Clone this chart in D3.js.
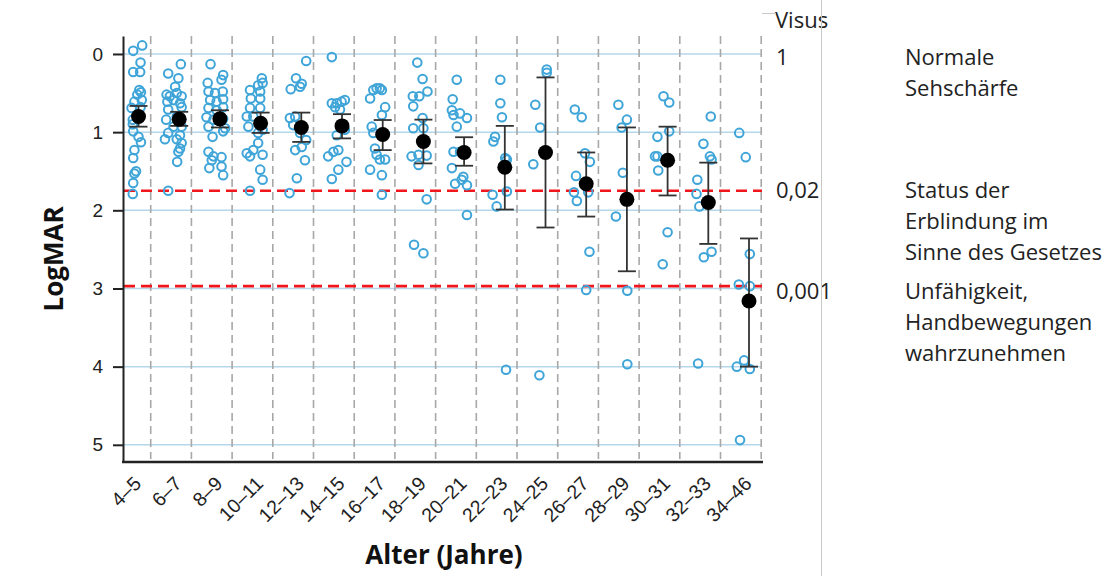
<!DOCTYPE html>
<html>
<head>
<meta charset="utf-8">
<script src="https://cdn.jsdelivr.net/npm/d3@7"></script>
<style>
  body { margin: 0; background: #fff; }
  svg { display: block; }
</style>
</head>
<body>
<div id="chart"></div>
<script>
// LogMAR by age group: jittered individual eyes, mean with error bars

const categories = ["4–5","6–7","8–9","10–11","12–13","14–15","16–17","18–19",
  "20–21","22–23","24–25","26–27","28–29","30–31","32–33","34–46"];

const means     = [0.80,0.835,0.83,0.887,0.94,0.92,1.03,1.12,1.26,1.45,1.26,1.66,1.86,1.36,1.90,3.16];
const errTop    = [0.665,0.74,0.72,0.75,0.75,0.77,0.845,0.84,1.065,0.92,0.30,1.26,0.94,0.93,1.39,2.36];
const errBottom = [0.93,0.92,0.94,1.01,1.125,1.08,1.23,1.40,1.43,1.99,2.22,2.08,2.78,1.81,2.43,4.0];

// [jitter (fraction of band), LogMAR]
const pointsByGroup = [
  [[-0.13,-0.04],[0.09,-0.11],[0.05,0.11],[-0.13,0.23],[0.04,0.23],[0.02,0.46],[0.06,0.49],[-0.03,0.52],
   [-0.10,0.61],[0.08,0.59],[-0.17,0.69],[0.05,0.68],[-0.14,0.84],[-0.14,0.90],[-0.13,0.99],[0.0,1.06],
   [0.06,1.13],[-0.10,1.23],[-0.13,1.33],[-0.06,1.50],[-0.10,1.53],[-0.13,1.65],[-0.14,1.79]],
  [[0.04,0.13],[-0.27,0.25],[-0.02,0.31],[-0.10,0.42],[-0.31,0.52],[-0.23,0.54],[-0.06,0.50],[0.06,0.54],
   [-0.29,0.61],[-0.14,0.59],[0.02,0.63],[-0.27,0.71],[0.06,0.68],[-0.32,0.84],[-0.06,0.80],[-0.14,0.93],
   [0.06,0.93],[-0.27,1.01],[0.02,1.04],[-0.35,1.09],[-0.06,1.09],[0.06,1.14],[0.02,1.21],[-0.02,1.25],
   [-0.05,1.38],[-0.27,1.75]],
  [[-0.23,0.13],[-0.30,0.37],[0.04,0.33],[0.08,0.27],[-0.28,0.48],[-0.12,0.50],[0.07,0.48],[-0.24,0.59],
   [-0.08,0.61],[0.08,0.58],[-0.28,0.69],[-0.08,0.72],[0.08,0.68],[-0.33,0.81],[-0.16,0.84],[0.08,0.83],
   [-0.28,0.93],[0.13,0.95],[-0.18,1.06],[0.08,0.99],[-0.28,1.25],[-0.16,1.31],[0.04,1.32],[-0.20,1.36],
   [-0.26,1.46],[0.04,1.44],[0.08,1.55]],
  [[0.03,0.31],[-0.06,0.40],[0.05,0.37],[-0.26,0.46],[-0.01,0.48],[-0.24,0.57],[-0.01,0.57],[-0.26,0.69],
   [-0.01,0.69],[-0.34,0.80],[-0.18,0.80],[-0.30,0.93],[-0.06,1.01],[0.05,0.97],[-0.06,1.14],[-0.18,1.23],
   [-0.34,1.27],[-0.26,1.31],[0.05,1.29],[-0.01,1.48],[0.05,1.61],[-0.26,1.75]],
  [[0.12,0.09],[-0.13,0.31],[0.01,0.38],[-0.26,0.45],[-0.03,0.42],[-0.28,0.82],[-0.15,0.80],[-0.20,0.91],
   [-0.03,1.01],[0.12,1.10],[-0.15,1.23],[0.01,1.19],[0.09,1.36],[-0.11,1.59],[-0.29,1.78]],
  [[-0.25,0.04],[-0.25,0.63],[-0.13,0.63],[-0.01,0.61],[0.07,0.59],[-0.17,0.68],[-0.05,0.71],[-0.13,1.04],
   [0.07,0.97],[-0.34,1.31],[-0.21,1.25],[-0.09,1.23],[0.11,1.38],[-0.09,1.48],[-0.25,1.60]],
  [[-0.31,0.57],[-0.23,0.46],[-0.15,0.44],[-0.07,0.44],[-0.02,0.46],[0.06,0.68],[-0.02,0.78],[-0.27,0.93],
   [-0.23,1.01],[-0.19,1.21],[-0.15,1.29],[-0.07,1.35],[0.06,1.35],[-0.31,1.48],[-0.02,1.55],[-0.02,1.80]],
  [[-0.15,0.11],[-0.02,0.32],[-0.26,0.54],[-0.10,0.54],[0.10,0.48],[-0.25,0.67],[-0.02,0.82],[-0.25,0.95],
   [0.0,0.95],[-0.29,1.31],[-0.12,1.29],[0.08,1.30],[-0.12,1.42],[0.08,1.86],[-0.23,2.44],[0.0,2.55]],
  [[-0.18,0.33],[-0.28,0.58],[-0.30,0.72],[-0.26,0.78],[-0.10,0.76],[0.07,0.82],[-0.18,0.93],[-0.26,1.25],
   [-0.10,1.25],[-0.30,1.46],[-0.02,1.57],[0.07,1.68],[-0.22,1.66],[-0.06,1.61],[0.07,2.06]],
  [[-0.11,0.33],[-0.11,0.63],[-0.07,0.81],[-0.24,1.06],[-0.28,1.12],[0.01,1.33],[0.05,1.35],[0.05,1.76],
   [-0.30,1.80],[-0.20,1.95],[0.03,4.04]],
  [[0.03,0.20],[0.03,0.24],[-0.25,0.65],[-0.13,0.94],[-0.30,1.41],[-0.15,4.11]],
  [[-0.28,0.71],[-0.11,0.81],[-0.03,1.27],[0.09,1.38],[-0.25,1.56],[-0.30,1.77],[-0.23,1.88],[0.05,1.77],
   [0.08,2.53],[0.0,3.02]],
  [[-0.21,0.65],[0.0,0.84],[-0.13,0.94],[-0.10,1.52],[-0.27,2.08],[0.01,3.03],[0.01,3.97]],
  [[-0.10,0.54],[0.04,0.62],[-0.25,1.06],[0.04,0.99],[-0.31,1.31],[-0.25,1.31],[-0.23,1.49],[0.0,2.28],
   [-0.12,2.69]],
  [[0.06,0.80],[-0.12,1.15],[0.04,1.31],[0.08,1.35],[-0.27,1.61],[-0.29,1.79],[-0.22,1.95],[-0.11,2.60],
   [0.08,2.53],[-0.25,3.96]],
  [[-0.24,1.01],[-0.08,1.32],[0.02,2.56],[-0.25,2.95],[0.02,2.97],[-0.30,4.00],[-0.12,3.92],[0.02,4.03],
   [-0.22,4.94]]
];

const yTicks = [0, 1, 2, 3, 4, 5];
const thresholds = [1.75, 2.97];
const visusLabels = ["1", "0,02", "0,001"];
const visusAt = [0, 1.7, 3];
const visusNotes = [["Normale", "Sehschärfe"],
                    ["Status der", "Erblindung im", "Sinne des Gesetzes"],
                    ["Unfähigkeit,", "Handbewegungen", "wahrzunehmen"]];

const width = 1107, height = 576;
const plot = { left: 123, right: 762, top: 36, bottom: 462 };

const svg = d3.select("#chart").append("svg")
  .attr("width", width)
  .attr("height", height);

const x = d3.scaleBand()
  .domain(categories)
  .range([118.15, 769.35])
  .padding(0);
const bw = x.bandwidth();
const cx = c => x(c) + bw / 2;

const y = d3.scaleLinear()
  .domain([-0.23, 5.22])
  .range([plot.top, plot.bottom]);

// horizontal grid
svg.append("g").selectAll("line")
  .data(yTicks)
  .join("line")
  .attr("x1", plot.left).attr("x2", plot.right)
  .attr("y1", d => y(d)).attr("y2", d => y(d))
  .attr("stroke", "#b5d7ec")
  .attr("stroke-width", 1.5);

// dashed separators between age groups
svg.append("g").selectAll("line")
  .data(categories)
  .join("line")
  .attr("x1", d => x(d) + bw * 0.8).attr("x2", d => x(d) + bw * 0.8)
  .attr("y1", plot.top).attr("y2", plot.bottom - 3)
  .attr("stroke", "#a8a8a8")
  .attr("stroke-width", 1.6)
  .attr("stroke-dasharray", "8,5");

// red threshold lines
svg.append("g").selectAll("line")
  .data(thresholds)
  .join("line")
  .attr("x1", plot.left + 1).attr("x2", plot.right)
  .attr("y1", d => y(d)).attr("y2", d => y(d))
  .attr("stroke", "#f0161c")
  .attr("stroke-width", 2.6)
  .attr("stroke-dasharray", "11,6");

// individual points
const pts = [];
pointsByGroup.forEach((arr, i) => arr.forEach(p => pts.push({ cat: categories[i], j: p[0], v: p[1] })));

svg.append("g").selectAll("circle")
  .data(pts)
  .join("circle")
  .attr("cx", d => cx(d.cat) + d.j * bw)
  .attr("cy", d => y(d.v))
  .attr("r", 4.3)
  .attr("fill", "none")
  .attr("stroke", "#3fa5d8")
  .attr("stroke-width", 2);

// error bars
const eb = svg.append("g")
  .attr("stroke", "#333")
  .attr("stroke-width", 1.8);
categories.forEach((c, i) => {
  eb.append("line")
    .attr("x1", cx(c)).attr("x2", cx(c))
    .attr("y1", y(errTop[i])).attr("y2", y(errBottom[i]));
  [errTop[i], errBottom[i]].forEach(v => {
    eb.append("line")
      .attr("x1", cx(c) - 9).attr("x2", cx(c) + 9)
      .attr("y1", y(v)).attr("y2", y(v));
  });
});

// means
svg.append("g").selectAll("circle")
  .data(means)
  .join("circle")
  .attr("cx", (d, i) => cx(categories[i]))
  .attr("cy", d => y(d))
  .attr("r", 7.5)
  .attr("fill", "#000");

// y axis
const yAxis = svg.append("g")
  .attr("transform", "translate(" + plot.left + ",0)")
  .call(d3.axisLeft(y).tickValues(yTicks).tickSize(10).tickSizeOuter(0).tickPadding(10).tickFormat(d3.format("d")));
yAxis.select(".domain").attr("stroke", "#222").attr("stroke-width", 2);
yAxis.selectAll(".tick line").attr("stroke", "#222").attr("stroke-width", 2);
yAxis.selectAll(".tick text")
  .attr("fill", "#222")
  .style("font-family", "'Liberation Sans', Arial, sans-serif")
  .style("font-size", "19px");

// x axis line
svg.append("line")
  .attr("x1", plot.left - 1).attr("x2", plot.right + 1)
  .attr("y1", plot.bottom).attr("y2", plot.bottom)
  .attr("stroke", "#222")
  .attr("stroke-width", 2.5);

// x tick labels
svg.append("g").selectAll("text")
  .data(categories)
  .join("text")
  .attr("transform", d => "translate(" + (cx(d) - 1) + ",480) rotate(-45)")
  .attr("text-anchor", "end")
  .attr("dy", "0.35em")
  .attr("fill", "#222")
  .style("font-family", "'Liberation Sans', Arial, sans-serif")
  .style("font-size", "19.5px")
  .text(d => d);

// axis titles
svg.append("text")
  .attr("transform", "translate(63,259) rotate(-90)")
  .attr("text-anchor", "middle")
  .style("font-family", "'Open Sans', sans-serif")
  .style("font-weight", "bold")
  .style("font-size", "26px")
  .attr("fill", "#111")
  .text("LogMAR");

svg.append("text")
  .attr("x", 444).attr("y", 564)
  .attr("text-anchor", "middle")
  .style("font-family", "'Open Sans', sans-serif")
  .style("font-weight", "bold")
  .style("font-size", "26px")
  .attr("fill", "#111")
  .text("Alter (Jahre)");

// right side: visus scale and notes
const side = svg.append("g")
  .style("font-family", "'Open Sans', sans-serif")
  .style("font-size", "22px")
  .attr("fill", "#222");

side.append("text").attr("x", 775).attr("y", y(0) - 34).attr("dy", "0.35em").text("Visus");
visusLabels.forEach((t, i) => {
  side.append("text").attr("x", 776).attr("y", y(visusAt[i]) + 3).attr("dy", "0.35em").text(t);
  visusNotes[i].forEach((line, k) => {
    side.append("text")
      .attr("x", 905)
      .attr("y", y(visusAt[i]) + 3 + k * 31)
      .attr("dy", "0.35em")
      .text(line);
  });
});

svg.append("line")
  .attr("x1", 821.5).attr("x2", 821.5)
  .attr("y1", 0).attr("y2", height)
  .attr("stroke", "#c8c8c8").attr("stroke-width", 1);
svg.append("line")
  .attr("x1", 762).attr("x2", 776)
  .attr("y1", 13.5).attr("y2", 13.5)
  .attr("stroke", "#c8c8c8").attr("stroke-width", 1);
</script>
</body>
</html>
